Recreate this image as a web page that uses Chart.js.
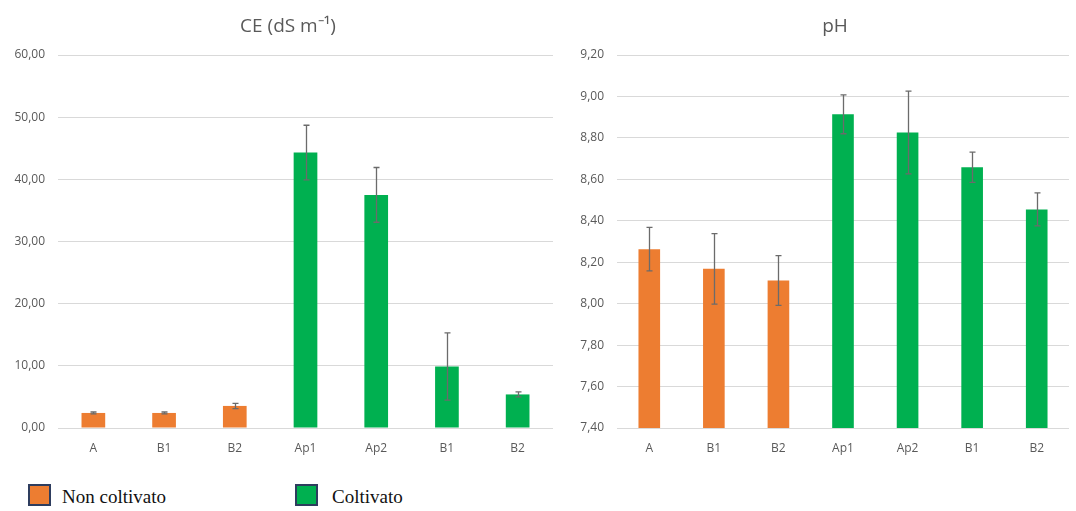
<!DOCTYPE html>
<html>
<head>
<meta charset="utf-8">
<script src="https://cdn.jsdelivr.net/npm/chart.js@4.4.1/dist/chart.umd.min.js"></script>
<style>
  body { margin: 0; background: #fff; overflow: hidden; }
  #wrap { position: relative; width: 1076px; height: 511px; overflow: hidden; }
  canvas { position: absolute; top: 0; }
  #ce { left: 0; }
  #ph { left: 560px; }
  .leg { position: absolute; top: 484px; width: 19px; height: 18px; border: 2px solid #2E3D5E; }
  .legtxt { position: absolute; top: 486px; font-family: "Liberation Serif", serif; font-size: 19px; color: #111; }
</style>
</head>
<body>
<div id="wrap">
  <canvas id="ce" width="560" height="470"></canvas>
  <canvas id="ph" width="516" height="470"></canvas>
  <div class="leg" style="left:28px; background:#ED7D31"></div>
  <div class="legtxt" style="left:62px">Non coltivato</div>
  <div class="leg" style="left:295px; background:#00B050"></div>
  <div class="legtxt" style="left:332px">Coltivato</div>
</div>
<script>
// horizons, grouped by management
const categories = ['A', 'B1', 'B2', 'Ap1', 'Ap2', 'B1', 'B2']
const groups = ['Non coltivato', 'Non coltivato', 'Non coltivato', 'Coltivato', 'Coltivato', 'Coltivato', 'Coltivato']

const ceValues = [2.42, 2.42, 3.55, 44.3, 37.5, 9.9, 5.4]
const ceErrors = [0.15, 0.15, 0.42, 4.4, 4.4, 5.4, 0.4]

const phValues = [8.263, 8.168, 8.112, 8.914, 8.826, 8.658, 8.455]
const phErrors = [0.105, 0.17, 0.12, 0.094, 0.2, 0.073, 0.08]

const groupColors = { 'Non coltivato': '#ED7D31', 'Coltivato': '#00B050' }
const barColors = groups.map(g => groupColors[g])

const grey = '#595959'
const tickFont = { family: 'Open Sans', size: 12 }

// simple error bars, drawn through the value scale
const errorBars = {
  id: 'errorBars',
  afterDatasetsDraw(chart, args, opts) {
    const ctx = chart.ctx
    const y = chart.scales.y
    const meta = chart.getDatasetMeta(0)
    ctx.save()
    ctx.strokeStyle = '#6b6b6b'
    ctx.lineWidth = 1.3
    meta.data.forEach((bar, i) => {
      const v = chart.data.datasets[0].data[i]
      const e = opts.errors[i]
      const top = y.getPixelForValue(v + e)
      const bot = y.getPixelForValue(v - e)
      const x = Math.round(bar.x) + 0.5
      ctx.beginPath()
      ctx.moveTo(x, top); ctx.lineTo(x, bot)
      ctx.moveTo(x - 3, top); ctx.lineTo(x + 3, top)
      ctx.moveTo(x - 3, bot); ctx.lineTo(x + 3, bot)
      ctx.stroke()
    })
    ctx.restore()
  }
}

// the chart title sits a bit off the plot centre, as in Excel
const panelTitle = {
  id: 'panelTitle',
  afterDraw(chart, args, opts) {
    const ctx = chart.ctx
    ctx.save()
    ctx.fillStyle = grey
    ctx.font = '19px "Open Sans"'
    ctx.textAlign = 'center'
    ctx.textBaseline = 'middle'
    ctx.fillText(opts.text, opts.x, 27)
    ctx.restore()
  }
}

function fmt(v) {
  return Number(v).toFixed(2).replace('.', ',')
}

function makeChart(id, title, titleX, values, errors, min, max, step, yWidth) {
  return new Chart(document.getElementById(id), {
    type: 'bar',
    data: {
      labels: categories,
      datasets: [{
        data: values,
        backgroundColor: barColors,
        categoryPercentage: 1,
        barPercentage: 0.335,
      }],
    },
    options: {
      responsive: false,
      animation: false,
      layout: { padding: { left: 0, right: 7, top: 55, bottom: 0 } },
      plugins: {
        legend: { display: false },
        tooltip: { enabled: false },
        title: { display: false },
        panelTitle: { text: title, x: titleX },
        errorBars: { errors: errors },
      },
      scales: {
        x: {
          grid: { display: false },
          border: { display: false },
          ticks: { color: grey, font: tickFont, padding: 5, maxRotation: 0 },
          afterFit: s => { s.height = 42 },
        },
        y: {
          min: min,
          max: max,
          grid: { color: '#D9D9D9', drawTicks: false },
          border: { display: false },
          ticks: { stepSize: step, color: grey, font: tickFont, padding: 13, callback: fmt },
          afterFit: s => { s.width = yWidth },
        },
      },
    },
    plugins: [errorBars, panelTitle],
  })
}

window.ceChart = makeChart('ce', 'CE (dS m⁻¹)', 288, ceValues, ceErrors, 0, 60, 10, 58)
window.phChart = makeChart('ph', 'pH', 275, phValues, phErrors, 7.4, 9.2, 0.2, 57)
</script>
</body>
</html>
